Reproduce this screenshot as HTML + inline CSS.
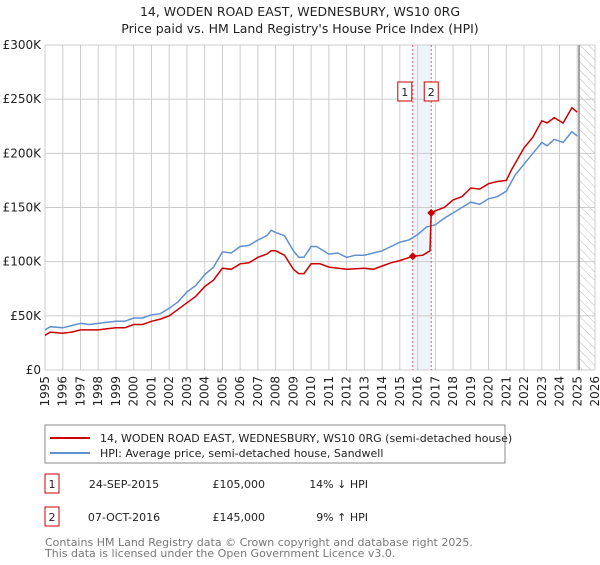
<!DOCTYPE html>
<html><head><meta charset="utf-8"><style>
body{margin:0;background:#fff;font-family:"Liberation Sans","DejaVu Sans",sans-serif;}
svg text{font-family:"DejaVu Sans","Liberation Sans",sans-serif;}
</style></head><body>
<svg id="c" width="600" height="560" xmlns="http://www.w3.org/2000/svg">
<defs><pattern id="hatch" width="6" height="6" patternUnits="userSpaceOnUse" patternTransform="rotate(-45)"><line x1="0" y1="0" x2="0" y2="6" stroke="#bbb" stroke-width="1"/></pattern></defs>
<text x="300" y="16" text-anchor="middle" font-size="12.5" fill="#222">14, WODEN ROAD EAST, WEDNESBURY, WS10 0RG</text>
<text x="300" y="33" text-anchor="middle" font-size="12.5" fill="#222">Price paid vs. HM Land Registry's House Price Index (HPI)</text>
<g id="grid"></g><g id="marks"></g><g id="axes"></g>
<rect x="45" y="425" width="460" height="38" fill="#fff" stroke="#888"/>
<line x1="50" y1="438" x2="90" y2="438" stroke="#cc0000" stroke-width="2"/>
<text x="100" y="442" font-size="11" fill="#222">14, WODEN ROAD EAST, WEDNESBURY, WS10 0RG (semi-detached house)</text>
<line x1="50" y1="453" x2="90" y2="453" stroke="#6090d0" stroke-width="2"/>
<text x="100" y="457" font-size="11" fill="#222">HPI: Average price, semi-detached house, Sandwell</text>
<g>
<rect x="45" y="474" width="14" height="19" fill="#fff" stroke="#cc0000"/>
<text x="52" y="488" text-anchor="middle" font-size="11" fill="#222">1</text>
<text x="124" y="488" text-anchor="middle" font-size="11" fill="#222">24-SEP-2015</text>
<text x="265" y="488" text-anchor="end" font-size="11" fill="#222">£105,000</text>
<text x="368" y="488" text-anchor="end" font-size="11" fill="#222">14% ↓ HPI</text></g>
<g>
<rect x="45" y="507" width="14" height="19" fill="#fff" stroke="#cc0000"/>
<text x="52" y="521" text-anchor="middle" font-size="11" fill="#222">2</text>
<text x="124" y="521" text-anchor="middle" font-size="11" fill="#222">07-OCT-2016</text>
<text x="265" y="521" text-anchor="end" font-size="11" fill="#222">£145,000</text>
<text x="368" y="521" text-anchor="end" font-size="11" fill="#222">9% ↑ HPI</text></g>
<text x="45" y="546" font-size="11" fill="#777">Contains HM Land Registry data © Crown copyright and database right 2025.</text>
<text x="45" y="557" font-size="11" fill="#777">This data is licensed under the Open Government Licence v3.0.</text>
</svg>
<script>
const yTicks=[0,50000,100000,150000,200000,250000,300000];
const yTickLabels=["£0","£50K","£100K","£150K","£200K","£250K","£300K"];
const xYears=[1995,1996,1997,1998,1999,2000,2001,2002,2003,2004,2005,2006,2007,2008,2009,2010,2011,2012,2013,2014,2015,2016,2017,2018,2019,2020,2021,2022,2023,2024,2025,2026];
const hpiT=[1995,1995.3,1996,1996.5,1997,1997.5,1998,1998.5,1999,1999.5,2000,2000.5,2001,2001.5,2002,2002.5,2003,2003.5,2004,2004.5,2005,2005.5,2006,2006.5,2007,2007.5,2007.75,2008,2008.5,2009,2009.3,2009.6,2010,2010.3,2011,2011.5,2012,2012.5,2013,2013.5,2014,2014.5,2015,2015.5,2016,2016.5,2017,2017.5,2018,2018.5,2019,2019.5,2020,2020.5,2021,2021.5,2022,2022.5,2023,2023.3,2023.7,2024.2,2024.7,2025];
const hpiV=[37,40,39,41,43,42,43,44,45,45,48,48,51,52,57,63,72,78,88,95,109,108,114,115,120,124,129,127,124,110,104,104,114,114,107,108,104,106,106,108,110,114,118,120,125,132,134,140,145,150,155,153,158,160,165,180,190,200,210,207,213,210,220,216];
const priceT=[1995,1995.3,1996,1996.5,1997,1997.5,1998,1998.5,1999,1999.5,2000,2000.5,2001,2001.5,2002,2002.5,2003,2003.5,2004,2004.5,2005,2005.5,2006,2006.5,2007,2007.5,2007.75,2008,2008.5,2009,2009.3,2009.6,2010,2010.5,2011,2012,2013,2013.5,2014,2014.5,2015,2015.73,2016.3,2016.7,2016.77,2017,2017.5,2018,2018.5,2019,2019.5,2020,2020.5,2021,2021.3,2022,2022.5,2023,2023.3,2023.7,2024.2,2024.7,2025];
const priceV=[32,35,34,35,37,37,37,38,39,39,42,42,45,47,50,56,62,68,77,83,94,93,98,99,104,107,110,110,106,93,89,89,98,98,95,93,94,93,96,99,101,105,106,110,145,147,150,157,160,168,167,172,174,175,185,205,215,230,228,233,228,242,238];
const salesT=[2015.73,2016.77];
const salesV=[105,145];
const saleLabels=["1","2"];
const X0=45,X1=595,Y0=370,Y1=45;
const sx=t=>X0+(t-1995)/(2026-1995)*(X1-X0);
const sy=v=>Y0-v/300000*(Y0-Y1);
const NS="http://www.w3.org/2000/svg";
function mk(tag,attrs,parent){const e=document.createElementNS(NS,tag);for(const k in attrs)e.setAttribute(k,attrs[k]);parent.appendChild(e);return e;}
const grid=document.getElementById('grid'),marks=document.getElementById('marks'),axes=document.getElementById('axes');
// shaded band and hatch
let band=mk('rect',{x:sx(salesT[0]),y:Y1,width:sx(salesT[1])-sx(salesT[0]),height:Y0-Y1,fill:'#eef3fc'},grid);


let hatch=mk('rect',{x:sx(2025.1),y:Y1,width:X1-sx(2025.1),height:Y0-Y1,fill:'url(#hatch)'},grid);


xYears.forEach(y=>{const l=mk('line',{x1:sx(y),x2:sx(y),y1:Y1,y2:Y0,stroke:'#ccc'},grid);


const t=mk('text',{x:0,y:0,'font-size':12,fill:'#222','text-anchor':'end',transform:`translate(${sx(y)+4},${Y0+6}) rotate(-90)`},axes);t.textContent=y;

});
yTicks.forEach((v,i)=>{const l=mk('line',{x1:X0,x2:X1,y1:sy(v),y2:sy(v),stroke:'#ccc'},grid);


const t=mk('text',{x:X0-4,y:sy(v)+4,'font-size':12,fill:'#222','text-anchor':'end'},axes);t.textContent=yTickLabels[i];

});
let nl=mk('line',{x1:sx(2025.1),x2:sx(2025.1),y1:Y1,y2:Y0,stroke:'#888','stroke-width':1.5},grid);


salesT.forEach((t,i)=>{const l=mk('line',{x1:sx(t),x2:sx(t),y1:Y1,y2:Y0,stroke:'#e06060','stroke-dasharray':'2,2'},grid);

});
const path=(T,V)=>T.map((t,i)=>(i?'L':'M')+sx(t).toFixed(1)+','+sy(V[i]*1000).toFixed(1)).join('');
let hp=mk('path',{d:path(hpiT,hpiV),fill:'none',stroke:'#6090d0','stroke-width':1.5},marks);


let pp=mk('path',{d:path(priceT,priceV),fill:'none',stroke:'#cc0000','stroke-width':1.5},marks);


salesT.forEach((t,i)=>{const x=sx(t),y=sy(salesV[i]*1000);
const d=mk('path',{d:`M${x},${y-4}L${x+4},${y}L${x},${y+4}L${x-4},${y}Z`,fill:'#cc0000'},marks);


const g=mk('g',{},marks);


const bx=i===0?x-15:x-7;
mk('rect',{x:bx,y:82,width:14,height:19,fill:'#fff',stroke:'#cc0000'},g);
const tx=mk('text',{x:bx+7,y:96,'text-anchor':'middle','font-size':11,fill:'#222'},g);tx.textContent=saleLabels[i];});
</script>
</body></html>
